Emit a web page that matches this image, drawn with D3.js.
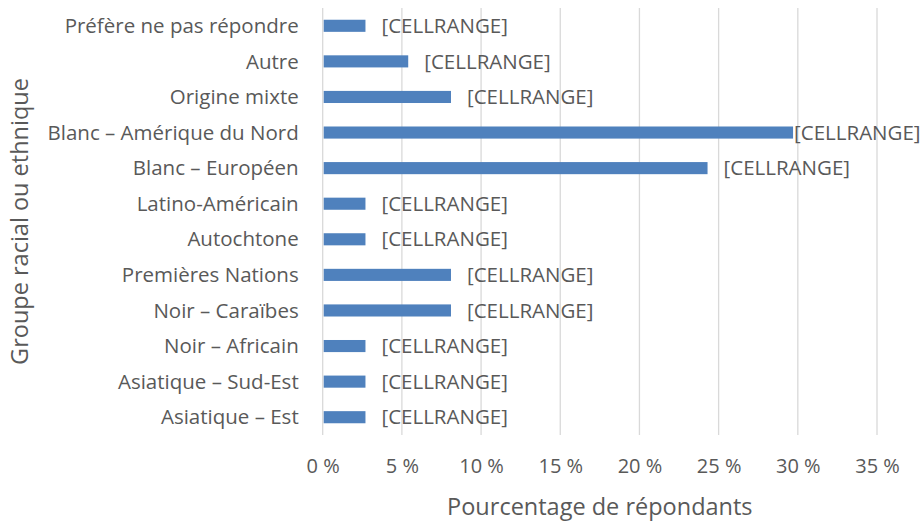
<!DOCTYPE html>
<html><head><meta charset="utf-8">
<script src="https://cdn.jsdelivr.net/npm/d3@7"></script>
<style>body{margin:0;background:#fff}text{font-family:"Open Sans",sans-serif;fill:#595959}</style>
</head><body><svg id="c" width="922" height="521"></svg>
<script>
const categories = ["Préfère ne pas répondre","Autre","Origine mixte","Blanc – Amérique du Nord","Blanc – Européen","Latino-Américain","Autochtone","Premières Nations","Noir – Caraïbes","Noir – Africain","Asiatique – Sud-Est","Asiatique – Est"];
const values = [2.7, 5.4, 8.1, 29.7, 24.3, 2.7, 2.7, 8.1, 8.1, 2.7, 2.7, 2.7];
const ticks = [0,5,10,15,20,25,30,35];
const labelText = "[CELLRANGE]";
const xTitle = "Pourcentage de répondants";
const yTitle = "Groupe racial ou ethnique";

const svg = d3.select("#c");
const W = 922;
const m = {left:322.7, right:877, top:8, bottom:435};
const x = d3.scaleLinear().domain([0,35]).range([m.left, m.right]);
const y = d3.scaleBand().domain(categories).range([m.top, m.bottom]).paddingInner(0.66).paddingOuter(0.33);

// gridlines
svg.append("g").selectAll("line").data(ticks).join("line")
  .attr("x1", d=>x(d)).attr("x2", d=>x(d)).attr("y1", m.top).attr("y2", m.bottom)
  .attr("stroke","#d9d9d9").attr("stroke-width",1.3);

// x tick labels
const xa = svg.append("g").attr("transform",`translate(0,${m.bottom})`)
  .call(d3.axisBottom(x).tickValues(ticks).tickSize(0).tickPadding(0).tickFormat(d=>d+" %"));
xa.select(".domain").remove();
xa.selectAll("text").attr("dy","0.35em").attr("y",31).attr("font-size",20).attr("font-family",'"Open Sans",sans-serif').attr("fill","#595959");

// y labels
const ya = svg.append("g").attr("transform",`translate(${m.left},0)`)
  .call(d3.axisLeft(y).tickSize(0).tickPadding(24));
ya.select(".domain").remove();
ya.selectAll("text").attr("font-size",20.5).attr("font-family",'"Open Sans",sans-serif').attr("fill","#595959").attr("dy","0.35em");

// bars
svg.append("g").selectAll("rect").data(values).join("rect")
  .attr("x", x(0)+1).attr("y",(d,i)=>y(categories[i]))
  .attr("width", d=>x(d)-x(0)-1).attr("height", y.bandwidth())
  .attr("fill","#4f81bd");

// data labels
const lg = svg.append("g");
values.forEach((v,i)=>{
  const t = lg.append("text").text(labelText).attr("font-size",20.5)
    .attr("y", y(categories[i])+y.bandwidth()/2).attr("dy","0.35em");
  const w = t.node().getComputedTextLength();
  const px = Math.min(x(v)+16, W-3-w);
  t.attr("x", Math.max(px, x(v)+1));
});

// titles
svg.append("text").text(xTitle).attr("x",(m.left+m.right)/2).attr("y",507).attr("dy","0.35em")
  .attr("text-anchor","middle").attr("font-size",23.5);
svg.append("text").text(yTitle).attr("transform",`translate(20,${(m.top+m.bottom)/2}) rotate(-90)`)
  .attr("dy","0.35em").attr("text-anchor","middle").attr("font-size",23.5);
</script></body></html>
